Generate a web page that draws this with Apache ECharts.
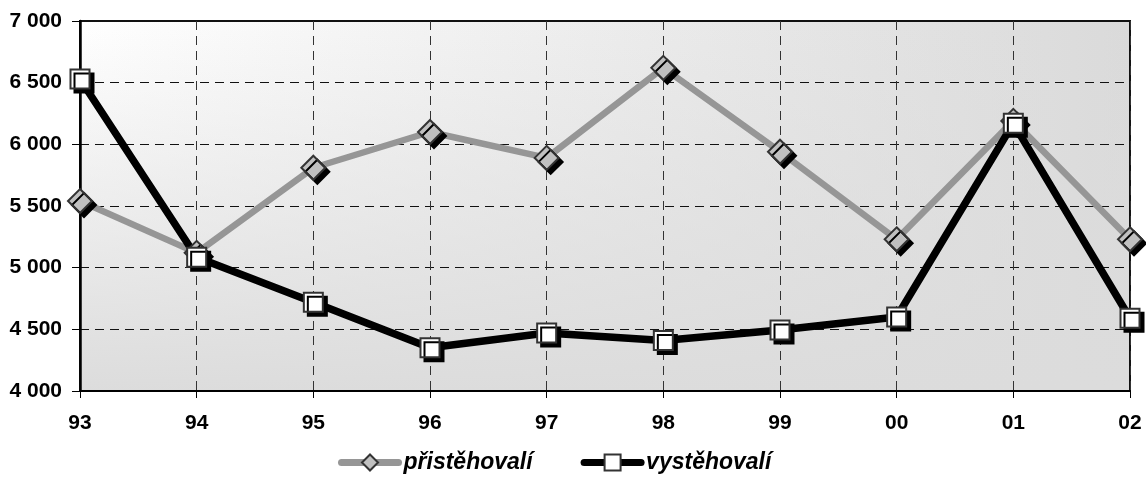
<!DOCTYPE html>
<html>
<head>
<meta charset="utf-8">
<script src="https://cdn.jsdelivr.net/npm/echarts@6/dist/echarts.min.js"></script>
<style>
html,body{margin:0;padding:0;background:#fff;}
#c{width:1146px;height:481px;}
</style>
</head>
<body>
<div id="c"></div>
<script>
var categories = ['93','94','95','96','97','98','99','00','01','02'];
var pristehovali = [5540, 5120, 5810, 6100, 5890, 6620, 5940, 5230, 6190, 5230];
var vystehovali = [6530, 5085, 4720, 4350, 4470, 4410, 4495, 4600, 6170, 4590];
var seriesNames = ['přistěhovalí', 'vystěhovalí'];

var FONT = '"Liberation Sans", Arial, sans-serif';
function fmt(v){ return String(v).replace(/\B(?=(\d{3})+(?!\d))/g, ' '); }

var chart = echarts.init(document.getElementById('c'), null, {renderer:'canvas'});
chart.setOption({
  animation: false,
  backgroundColor: '#ffffff',
  grid: [
    {left: 80, right: 16, top: 21, bottom: 90, show: true, z: -2,
     borderWidth: 0,
     backgroundColor: {type:'linear', x:0, y:0, x2:1, y2:0,
       colorStops:[{offset:0,color:'#ffffff'},{offset:1,color:'#dadada'}]}},
    {left: 80, right: 16, top: 21, bottom: 90, show: true, z: -1,
     borderColor: '#111', borderWidth: 2,
     backgroundColor: {type:'linear', x:0, y:0, x2:0, y2:1,
       colorStops:[{offset:0,color:'rgba(220,220,220,0)'},{offset:1,color:'rgba(220,220,220,1)'}]}}
  ],
  xAxis: [{
    type: 'category', gridIndex: 0, data: categories, boundaryGap: false,
    axisLine: {show: true, lineStyle: {color: '#000', width: 2}},
    axisTick: {show: true, length: 7, lineStyle: {color: '#000', width: 1}},
    axisLabel: {color: '#000', fontFamily: FONT, fontWeight: 'bold', fontSize: 21, margin: 22},
    splitLine: {show: true, lineStyle: {color: '#333', width: 1, type: [9, 6]}}
  }, {
    type: 'category', gridIndex: 1, show: false
  }],
  yAxis: [{
    type: 'value', gridIndex: 0, min: 4000, max: 7000, interval: 500,
    axisLine: {show: true, lineStyle: {color: '#000', width: 2.5}},
    axisTick: {show: true, length: 8, lineStyle: {color: '#000', width: 1}},
    axisLabel: {color: '#000', fontFamily: FONT, fontWeight: 'bold', fontSize: 21, margin: 18,
      formatter: function(v){ return fmt(v); }},
    splitLine: {show: true, lineStyle: {color: '#111', width: 1, type: [9, 6]}}
  }, {
    type: 'value', gridIndex: 1, show: false
  }],
  legend: {
    left: 338, top: 451, padding: 0,
    itemWidth: 57, itemHeight: 20, itemGap: 48,
    textStyle: {color: '#000', fontFamily: FONT, fontWeight: 'bold', fontStyle: 'italic', fontSize: 23},
    itemStyle: {shadowColor: 'rgba(0,0,0,0)', shadowOffsetX: 0, shadowOffsetY: 0},
    lineStyle: {width: 7, cap: 'round'},
    data: seriesNames
  },
  series: [{
    name: seriesNames[0], type: 'line', data: pristehovali,
    xAxisIndex: 0, yAxisIndex: 0,
    symbol: 'diamond', symbolSize: 24, showAllSymbol: true,
    lineStyle: {color: '#969696', width: 6.5},
    itemStyle: {color: '#c0c0c0', borderColor: '#333', borderWidth: 2,
      shadowColor: '#000', shadowOffsetX: 4, shadowOffsetY: 4, shadowBlur: 0},
    emphasis: {disabled: true}
  }, {
    name: seriesNames[1], type: 'line', data: vystehovali,
    xAxisIndex: 0, yAxisIndex: 0,
    symbol: 'rect', symbolSize: 19, showAllSymbol: true,
    lineStyle: {color: '#000', width: 7.5},
    itemStyle: {color: '#ffffff', borderColor: '#333', borderWidth: 2,
      shadowColor: '#000', shadowOffsetX: 4, shadowOffsetY: 4, shadowBlur: 0},
    emphasis: {disabled: true}
  }]
});
</script>
</body>
</html>
